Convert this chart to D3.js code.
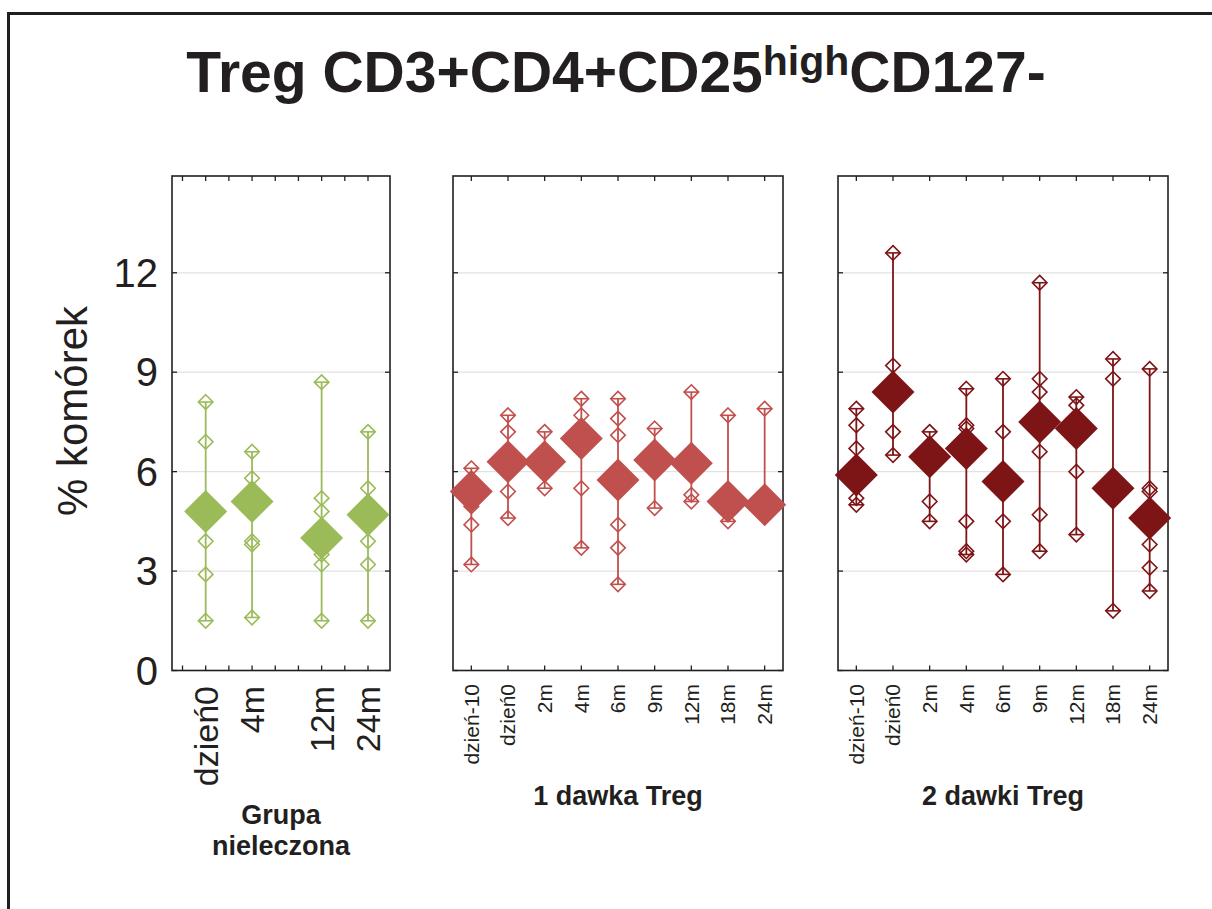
<!DOCTYPE html>
<html>
<head>
<meta charset="utf-8">
<script src="https://cdn.jsdelivr.net/npm/d3@7"></script>
<style>
  body { margin: 0; background: #fff; }
  svg { display: block; font-family: 'Liberation Sans', Arial, sans-serif; }
</style>
</head>
<body>
<svg class="mainSvg"></svg>
<script>
(function () {

  // ===========================================================================
  //     data area
  // ===========================================================================
  const untreatedCats = ['dzień0', '4m', '12m', '24m'];
  // the untreated axis has 9 tick slots, categories sit on some of them
  const untreatedSlots = ['_0', 'dzień0', '_2', '4m', '_4', '_5', '12m', '_7', '24m'];
  const untreatedMeans = [4.8, 5.1, 4.0, 4.7];
  const untreatedPoints = [
    [8.1, 6.9, 3.9, 2.9, 1.5],
    [6.6, 5.8, 3.9, 3.8, 1.6],
    [8.7, 5.2, 4.8, 3.5, 3.2, 1.5],
    [7.2, 5.5, 3.9, 3.2, 1.5],
  ];

  const timeCats = ['dzień-10', 'dzień0', '2m', '4m', '6m', '9m', '12m', '18m', '24m'];

  const oneDoseMeans = [5.4, 6.3, 6.3, 7.0, 5.75, 6.35, 6.25, 5.1, 5.0];
  const oneDosePoints = [
    [6.1, 4.95, 4.4, 3.2],
    [7.7, 7.2, 5.4, 4.6],
    [7.2, 5.5],
    [8.2, 7.7, 5.5, 3.7],
    [8.2, 7.6, 7.1, 4.4, 3.7, 2.6],
    [7.3, 4.9],
    [8.4, 5.3, 5.1],
    [7.7, 4.5],
    [7.9],
  ];

  const twoDoseMeans = [5.9, 8.4, 6.45, 6.7, 5.7, 7.5, 7.3, 5.5, 4.6];
  const twoDosePoints = [
    [7.9, 7.4, 6.7, 5.2, 5.0],
    [12.6, 9.2, 7.2, 6.5],
    [7.2, 5.1, 4.5],
    [8.5, 7.4, 7.3, 4.5, 3.6, 3.5],
    [8.8, 7.2, 4.5, 2.9],
    [11.7, 8.8, 8.4, 6.6, 4.7, 3.6],
    [8.25, 8.0, 6.0, 4.1],
    [9.4, 8.8, 1.8],
    [9.1, 5.5, 5.4, 3.8, 3.1, 2.4],
  ];

  const yTicks = [0, 3, 6, 9, 12];

  const width = 1212;
  const height = 909;
  const plotTop = 176;
  const plotBottom = 670.5;
  const textColor = '#231f20';
  const tickLen = 5;

  const panels = [
    {
      cats: untreatedCats, slots: untreatedSlots, means: untreatedMeans, points: untreatedPoints,
      color: '#9bbb59', x0: 172, x1: 390, padL: 10.5, padR: 22,
      labelSize: 34, labelTop: 686, title: ['Grupa', 'nieleczona'], titleY: 824,
    },
    {
      cats: timeCats, slots: timeCats, means: oneDoseMeans, points: oneDosePoints,
      color: '#c0504d', x0: 453, x1: 783, labelSize: 21, labelTop: 684,
      title: ['1 dawka Treg'], titleY: 805,
    },
    {
      cats: timeCats, slots: timeCats, means: twoDoseMeans, points: twoDosePoints,
      color: '#7d1416', x0: 838, x1: 1168, labelSize: 21, labelTop: 684,
      title: ['2 dawki Treg'], titleY: 805,
    },
  ];

  function diamond(r) {
    return `M0,${-r}L${r},0L0,${r}L${-r},0Z`;
  }

  // ===========================================================================
  //      procedure
  // ===========================================================================
  const svg = d3.select('.mainSvg')
    .attr('width', width)
    .attr('height', height);

  // outer frame
  svg.append('path')
    .attr('d', `M8.5,${height}V13.5H${width}`)
    .attr('fill', 'none')
    .attr('stroke', textColor)
    .attr('stroke-width', 3);

  // title
  const title = svg.append('text')
    .attr('x', 616)
    .attr('y', 92)
    .attr('text-anchor', 'middle')
    .attr('font-weight', 'bold')
    .attr('font-size', 57)
    .attr('fill', textColor);
  title.append('tspan').text('Treg CD3+CD4+CD25');
  title.append('tspan').attr('font-size', 41).attr('dy', -17).text('high');
  title.append('tspan').attr('dy', 17).text('CD127-');

  const y = d3.scaleLinear()
    .domain([0, 14.92])
    .range([plotBottom, plotTop]);

  // y axis labels (first panel only)
  svg.append('g')
    .selectAll('text')
    .data(yTicks)
    .enter()
    .append('text')
    .attr('x', 158)
    .attr('y', d => y(d))
    .attr('dy', '0.35em')
    .attr('text-anchor', 'end')
    .attr('font-size', 40)
    .attr('fill', textColor)
    .text(d => d);

  svg.append('text')
    .attr('transform', 'translate(87,411) rotate(-90)')
    .attr('text-anchor', 'middle')
    .attr('font-size', 42)
    .attr('fill', textColor)
    .text('% komórek');

  // ===========================================================================
  //      draw panels
  // ===========================================================================
  panels.forEach(function (p) {
    const x = d3.scalePoint()
      .domain(p.slots)
      .range(p.padL !== undefined ? [p.x0 + p.padL, p.x1 - p.padR] : [p.x0, p.x1])
      .padding(p.padL !== undefined ? 0 : 0.5);

    const g = svg.append('g');

    // grid
    g.selectAll('line.grid')
      .data(yTicks.filter(d => d > 0))
      .enter()
      .append('line')
      .attr('x1', p.x0)
      .attr('x2', p.x1)
      .attr('y1', d => y(d))
      .attr('y2', d => y(d))
      .attr('stroke', '#e2e2e2')
      .attr('stroke-width', 1.2);

    // inward ticks on all four sides
    p.slots.forEach(function (s) {
      g.append('line')
        .attr('x1', x(s)).attr('x2', x(s))
        .attr('y1', plotBottom).attr('y2', plotBottom - tickLen)
        .attr('stroke', textColor).attr('stroke-width', 1.3);
      g.append('line')
        .attr('x1', x(s)).attr('x2', x(s))
        .attr('y1', plotTop).attr('y2', plotTop + tickLen)
        .attr('stroke', textColor).attr('stroke-width', 1.3);
    });
    yTicks.forEach(function (t) {
      g.append('line')
        .attr('x1', p.x0).attr('x2', p.x0 + tickLen)
        .attr('y1', y(t)).attr('y2', y(t))
        .attr('stroke', textColor).attr('stroke-width', 1.3);
      g.append('line')
        .attr('x1', p.x1).attr('x2', p.x1 - tickLen)
        .attr('y1', y(t)).attr('y2', y(t))
        .attr('stroke', textColor).attr('stroke-width', 1.3);
    });

    g.append('rect')
      .attr('x', p.x0)
      .attr('y', plotTop)
      .attr('width', p.x1 - p.x0)
      .attr('height', plotBottom - plotTop)
      .attr('fill', 'none')
      .attr('stroke', textColor)
      .attr('stroke-width', 1.6);

    // category labels
    g.selectAll('text.cat')
      .data(p.cats)
      .enter()
      .append('text')
      .attr('transform', d => `translate(${x(d)},${p.labelTop}) rotate(-90)`)
      .attr('dy', '0.35em')
      .attr('text-anchor', 'end')
      .attr('font-size', p.labelSize)
      .attr('fill', textColor)
      .text(d => d);

    // group title
    const gt = g.append('text')
      .attr('x', (p.x0 + p.x1) / 2)
      .attr('y', p.titleY)
      .attr('text-anchor', 'middle')
      .attr('font-weight', 'bold')
      .attr('font-size', 27)
      .attr('fill', textColor);
    p.title.forEach(function (line, i) {
      gt.append('tspan')
        .attr('x', (p.x0 + p.x1) / 2)
        .attr('dy', i === 0 ? 0 : 31)
        .text(line);
    });

    // series
    p.cats.forEach(function (c, i) {
      const cx = x(c);
      const ext = d3.extent(p.points[i].concat([p.means[i]]));
      const sg = g.append('g');

      sg.append('line')
        .attr('x1', cx).attr('x2', cx)
        .attr('y1', y(ext[0])).attr('y2', y(ext[1]))
        .attr('stroke', p.color)
        .attr('stroke-width', 1.8);

      sg.selectAll('line.cap')
        .data(ext)
        .enter()
        .append('line')
        .attr('x1', cx - 7).attr('x2', cx + 7)
        .attr('y1', d => y(d)).attr('y2', d => y(d))
        .attr('stroke', p.color)
        .attr('stroke-width', 1.6);

      sg.selectAll('path.pt')
        .data(p.points[i])
        .enter()
        .append('path')
        .attr('d', diamond(7.3))
        .attr('transform', d => `translate(${cx},${y(d)})`)
        .attr('fill', 'none')
        .attr('stroke', p.color)
        .attr('stroke-width', 1.6);

      sg.append('path')
        .attr('d', diamond(21.5))
        .attr('transform', `translate(${cx},${y(p.means[i])})`)
        .attr('fill', p.color);
    });
  });
})();
</script>
</body>
</html>
